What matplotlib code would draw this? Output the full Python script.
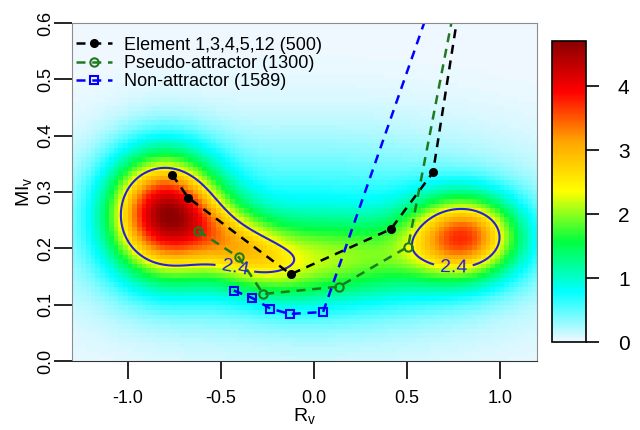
import numpy as np
import matplotlib.pyplot as plt
from matplotlib.colors import LinearSegmentedColormap, Normalize

plt.rcParams['font.family'] = ['Liberation Sans', 'DejaVu Sans']
plt.rcParams['mathtext.fontset'] = 'custom'
plt.rcParams['mathtext.rm'] = 'Liberation Sans'
plt.rcParams['mathtext.it'] = 'Liberation Sans:italic'

# mean trajectories in (R_v, MI_v); last point of each runs off the top
elem_r = [-0.762, -0.676, -0.124, 0.414, 0.641, 0.853]
elem_mi = [0.331, 0.290, 0.154, 0.234, 0.335, 0.780]
pseudo_r = [-0.622, -0.403, -0.272, 0.136, 0.507, 0.798]
pseudo_mi = [0.231, 0.184, 0.119, 0.132, 0.203, 0.700]
non_r = [-0.430, -0.332, -0.233, -0.129, 0.050, 0.699]
non_mi = [0.125, 0.112, 0.093, 0.0835, 0.087, 0.700]

labels = ["Element 1,3,4,5,12 (500)", "Pseudo-attractor (1300)", "Non-attractor (1589)"]

# density surface built from gaussian bumps
bump_r = [-0.81, -0.42, 0.10, 0.81, 0.00]
bump_mi = [0.262, 0.208, 0.180, 0.222, 0.225]
bump_sr = [0.20, 0.22, 0.45, 0.20, 0.82]
bump_smi = [0.072, 0.055, 0.050, 0.050, 0.115]
bump_rho = [0.0, -0.5, 0.0, 0.0, 0.0]
bump_amp = [3.85, 1.4, 1.3, 2.95, 0.8]

contour_level = 2.4
label_pos = [(-0.42, 0.172), (0.75, 0.165)]

xlim = (-1.3, 1.2)
ylim = (0.0, 0.6)


def density(r, mi):
    z = np.zeros_like(r)
    for cx, cy, sx, sy, rho, a in zip(bump_r, bump_mi, bump_sr, bump_smi, bump_rho, bump_amp):
        dx = (r - cx) / sx
        dy = (mi - cy) / sy
        q = (dx**2 - 2 * rho * dx * dy + dy**2) / (1 - rho**2)
        z += a * np.exp(-0.5 * q)
    return z


# coarse grid for the image, fine grid for the contour
gx = np.linspace(xlim[0], xlim[1], 101)
gy = np.linspace(ylim[0], ylim[1], 74)
GX, GY = np.meshgrid(0.5 * (gx[1:] + gx[:-1]), 0.5 * (gy[1:] + gy[:-1]))
Z = density(GX, GY)

fx = np.linspace(xlim[0], xlim[1], 300)
fy = np.linspace(ylim[0], ylim[1], 200)
FX, FY = np.meshgrid(fx, fy)
FZ = density(FX, FY)

cmap = LinearSegmentedColormap.from_list(
    "dens", ["#f0f8ff", "#00ffff", "#00ff40", "#ffff00", "#ffa500", "#ff0000", "#8b0000"])
norm = Normalize(vmin=0, vmax=Z.max())

fig = plt.figure(figsize=(6.4, 4.3), dpi=100)
ax = fig.add_axes([72 / 640, 1 - 361 / 430, 465 / 640, 338 / 430])
im = ax.imshow(Z, origin="lower", extent=[*xlim, *ylim], aspect="auto",
               cmap=cmap, norm=norm, interpolation="nearest")

cs = ax.contour(FX, FY, FZ, levels=[contour_level], colors="#2222dd", linewidths=1.5)
ax.clabel(cs, fmt="%.1f", fontsize=14, inline=True, inline_spacing=6, manual=label_pos)

ls = (0, (3.6, 2.7))
ax.plot(elem_r, elem_mi, color="black", linestyle=ls, lw=1.8, marker="o", ms=5.5,
        label=labels[0])
ax.plot(pseudo_r, pseudo_mi, color="#1e7b1e", linestyle=ls, lw=1.8, marker="o", ms=6,
        mfc="none", mew=1.5, label=labels[1])
ax.plot(non_r, non_mi, color="#0000ff", linestyle=ls, lw=1.8, marker="s", ms=6,
        mfc="none", mew=1.5, label=labels[2])

ax.set_xlim(*xlim)
ax.set_ylim(*ylim)
ax.set_xticks([-1.0, -0.5, 0.0, 0.5, 1.0])
ax.set_yticks([0.0, 0.1, 0.2, 0.3, 0.4, 0.5, 0.6])
ax.xaxis.set_major_formatter(plt.FormatStrFormatter("%.1f"))
ax.yaxis.set_major_formatter(plt.FormatStrFormatter("%.1f"))
ax.tick_params(axis="both", length=13, width=1.2, labelsize=13, color="black")
ax.tick_params(axis="x", pad=8)
ax.tick_params(axis="y", pad=0)
plt.setp(ax.get_yticklabels(), rotation=90, va="center")
for side in ["top", "right", "left"]:
    ax.spines[side].set_color("#8c8c8c")
ax.spines["bottom"].set_color("#333333")

ax.set_xlabel(r"R$_\mathrm{v}$", fontsize=14, labelpad=-1)
ax.set_ylabel(r"MI$_\mathrm{v}$", fontsize=14, labelpad=2)

leg = ax.legend(loc="upper left", bbox_to_anchor=(0.0, 1 - 10 / 338), frameon=False,
                fontsize=13, handlelength=2.0, handletextpad=0.7, labelspacing=0.08,
                borderpad=0.2, borderaxespad=0, numpoints=1)

cax = fig.add_axes([552 / 640, 1 - 342 / 430, 34 / 640, 301 / 430])
cb = fig.colorbar(im, cax=cax, ticks=[0, 1, 2, 3, 4])
cb.outline.set_linewidth(1.2)
cax.tick_params(length=9, width=1.2, labelsize=15, pad=14)

fig.savefig("out.png", dpi=100)
